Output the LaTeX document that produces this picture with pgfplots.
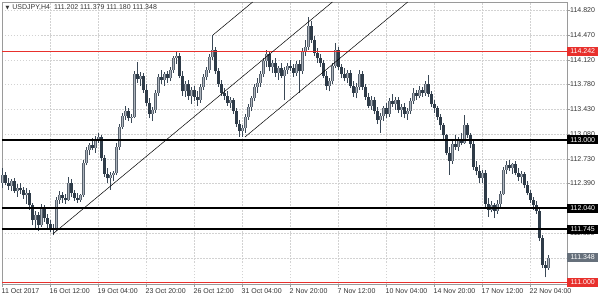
\documentclass[border=0pt]{standalone}
\usepackage{fontspec}
\setmainfont{Liberation Sans}
\newfontfamily\symfont{DejaVu Sans}
\usepackage{pgfplots}
\usepackage{pgfplotstable}
\pgfplotsset{compat=1.18}
\definecolor{bear}{HTML}{2E3B48}
\definecolor{bullout}{HTML}{56606C}
\definecolor{bullin}{HTML}{AEB5BD}
\definecolor{wick}{HTML}{3A4856}
\definecolor{gridc}{HTML}{D2D2D2}
\definecolor{axisc}{HTML}{9A9A9A}
\definecolor{txt}{HTML}{333333}
\definecolor{lvlred}{HTML}{E8302C}
\definecolor{pricegrey}{HTML}{66707B}

\pgfplotstableread{
i O H L C
0 112.40 112.60 112.33 112.50
1 112.50 112.55 112.36 112.40
2 112.40 112.47 112.30 112.35
3 112.35 112.45 112.28 112.42
4 112.42 112.46 112.25 112.28
5 112.28 112.38 112.20 112.33
6 112.33 112.40 112.24 112.30
7 112.30 112.34 112.17 112.22
8 112.22 112.32 112.10 112.26
9 112.26 112.30 112.02 112.08
10 112.08 112.12 111.80 111.88
11 111.88 112.00 111.76 111.95
12 111.95 111.98 111.72 111.80
13 111.80 112.10 111.78 112.05
14 112.05 112.08 111.85 111.90
15 111.90 111.96 111.75 111.82
16 111.82 111.88 111.70 111.76
17 111.76 111.82 111.66 111.74
18 111.74 112.20 111.72 112.16
19 112.16 112.28 112.10 112.22
20 112.22 112.27 112.12 112.18
21 112.18 112.24 112.10 112.15
22 112.15 112.48 112.14 112.40
23 112.40 112.45 112.20 112.25
24 112.25 112.30 112.14 112.18
25 112.18 112.26 112.12 112.16
26 112.16 112.24 112.13 112.22
27 112.22 112.72 112.20 112.68
28 112.68 112.90 112.64 112.85
29 112.85 112.95 112.78 112.92
30 112.92 113.02 112.85 112.88
31 112.88 113.05 112.82 113.00
32 113.00 113.10 112.95 113.04
33 113.04 113.06 112.70 112.74
34 112.74 112.78 112.48 112.52
35 112.52 112.60 112.40 112.46
36 112.46 112.55 112.30 112.50
37 112.50 112.56 112.42 112.53
38 112.53 112.95 112.50 112.90
39 112.90 113.22 112.86 113.18
40 113.18 113.38 113.15 113.34
41 113.34 113.48 113.28 113.40
42 113.40 113.45 113.26 113.30
43 113.30 113.36 113.24 113.32
44 113.32 113.96 113.30 113.92
45 113.92 114.09 113.80 113.85
46 113.85 113.95 113.76 113.90
47 113.90 113.94 113.66 113.70
48 113.70 113.78 113.48 113.52
49 113.52 113.58 113.30 113.36
50 113.36 113.46 113.26 113.42
51 113.42 113.70 113.38 113.66
52 113.66 113.92 113.62 113.88
53 113.88 113.98 113.78 113.84
54 113.84 113.95 113.76 113.92
55 113.92 113.97 113.80 113.86
56 113.86 114.02 113.82 113.98
57 113.98 114.18 113.94 114.14
58 114.14 114.24 114.06 114.18
59 114.18 114.22 113.86 113.90
60 113.90 113.96 113.62 113.68
61 113.68 113.82 113.60 113.78
62 113.78 113.84 113.56 113.62
63 113.62 113.74 113.50 113.70
64 113.70 113.76 113.55 113.60
65 113.60 113.68 113.48 113.56
66 113.56 113.78 113.52 113.74
67 113.74 113.92 113.70 113.88
68 113.88 114.02 113.84 113.98
69 113.98 114.20 113.94 114.16
70 114.16 114.47 114.12 114.26
71 114.26 114.30 113.92 113.96
72 113.96 114.00 113.74 113.78
73 113.78 113.84 113.62 113.66
74 113.66 113.72 113.56 113.62
75 113.62 113.68 113.48 113.52
76 113.52 113.60 113.44 113.56
77 113.56 113.58 113.36 113.40
78 113.40 113.44 113.18 113.22
79 113.22 113.28 113.04 113.12
80 113.12 113.20 113.04 113.16
81 113.16 113.36 113.10 113.32
82 113.32 113.50 113.28 113.46
83 113.46 113.62 113.40 113.58
84 113.58 113.78 113.54 113.74
85 113.74 113.86 113.66 113.80
86 113.80 113.96 113.74 113.92
87 113.92 114.14 113.88 114.10
88 114.10 114.26 114.02 114.20
89 114.20 114.24 113.96 114.02
90 114.02 114.12 113.94 114.08
91 114.08 114.14 113.88 113.94
92 113.94 114.04 113.84 114.00
93 114.00 114.08 113.86 113.90
94 113.90 114.02 113.56 113.98
95 113.98 114.08 113.92 114.04
96 114.04 114.12 113.96 114.00
97 114.00 114.06 113.88 113.94
98 113.94 114.10 113.90 114.06
99 114.06 114.12 113.66 113.96
100 113.96 114.28 113.92 114.24
101 114.24 114.40 114.18 114.30
102 114.30 114.72 114.26 114.60
103 114.60 114.66 114.36 114.40
104 114.40 114.46 114.18 114.22
105 114.22 114.28 114.08 114.14
106 114.14 114.20 114.02 114.08
107 114.08 114.12 113.86 113.90
108 113.90 113.96 113.70 113.76
109 113.76 113.86 113.68 113.82
110 113.82 114.08 113.78 114.04
111 114.04 114.36 114.00 114.26
112 114.26 114.30 113.98 114.02
113 114.02 114.06 113.86 113.92
114 113.92 114.00 113.82 113.86
115 113.86 113.98 113.80 113.94
116 113.94 113.98 113.72 113.76
117 113.76 113.82 113.60 113.66
118 113.66 113.80 113.58 113.74
119 113.74 113.98 113.70 113.92
120 113.92 113.96 113.70 113.74
121 113.74 113.78 113.56 113.60
122 113.60 113.66 113.44 113.48
123 113.48 113.62 113.42 113.56
124 113.56 113.60 113.36 113.40
125 113.40 113.46 113.22 113.28
126 113.28 113.38 113.10 113.34
127 113.34 113.48 113.26 113.44
128 113.44 113.52 113.30 113.36
129 113.36 113.58 113.32 113.54
130 113.54 113.64 113.46 113.50
131 113.50 113.60 113.42 113.56
132 113.56 113.60 113.38 113.42
133 113.42 113.50 113.32 113.46
134 113.46 113.52 113.30 113.36
135 113.36 113.44 113.28 113.40
136 113.40 113.58 113.36 113.54
137 113.54 113.72 113.50 113.66
138 113.66 113.70 113.56 113.62
139 113.62 113.76 113.58 113.70
140 113.70 113.74 113.60 113.66
141 113.66 113.82 113.62 113.78
142 113.78 113.91 113.60 113.64
143 113.64 113.68 113.46 113.50
144 113.50 113.56 113.38 113.44
145 113.44 113.48 113.28 113.32
146 113.32 113.36 113.14 113.20
147 113.20 113.24 113.00 113.06
148 113.06 113.08 112.78 112.82
149 112.82 112.90 112.51 112.70
150 112.70 112.98 112.66 112.94
151 112.94 113.06 112.86 112.90
152 112.90 113.04 112.84 113.00
153 113.00 113.10 112.92 112.96
154 112.96 113.35 112.94 113.20
155 113.20 113.24 113.02 113.06
156 113.06 113.10 112.88 112.94
157 112.94 113.00 112.58 112.62
158 112.62 112.70 112.50 112.56
159 112.56 112.64 112.40 112.46
160 112.46 112.58 112.40 112.54
161 112.54 112.58 112.04 112.10
162 112.10 112.18 111.92 112.02
163 112.02 112.14 111.98 112.08
164 112.08 112.12 111.90 112.00
165 112.00 112.16 111.96 112.10
166 112.10 112.28 112.06 112.24
167 112.24 112.62 112.22 112.58
168 112.58 112.70 112.52 112.64
169 112.64 112.72 112.56 112.60
170 112.60 112.68 112.52 112.66
171 112.66 112.70 112.50 112.54
172 112.54 112.60 112.42 112.48
173 112.48 112.56 112.40 112.52
174 112.52 112.55 112.32 112.36
175 112.36 112.42 112.22 112.26
176 112.26 112.30 112.12 112.16
177 112.16 112.20 112.02 112.08
178 112.08 112.14 111.96 112.00
179 112.00 112.04 111.58 111.62
180 111.62 111.66 111.20 111.24
181 111.24 111.30 111.07 111.20
182 111.202 111.379 111.180 111.348
}\ohlc

\newcommand{\plabel}[3]{\node[anchor=west, fill=#2, text=white, inner sep=0pt,
  minimum width=31pt, minimum height=9pt] at (axis cs:188.17,#1) {#3};}

\begin{document}
\begin{tikzpicture}[font=\fontsize{7}{8}\selectfont]
\useasboundingbox (0,0) rectangle (600pt,300pt);
\begin{axis}[
  at={(2pt,16pt)}, anchor=south west, scale only axis,
  width=565pt, height=282pt,
  xmin=-0.17, xmax=188.17, ymin=110.977, ymax=114.932,
  clip=false,
  axis line style={draw=axisc, line width=0.8pt},
  xtick={0,16,32,48,64,80,96,112,128,144,160,176},
  xticklabels={11 Oct 2017,16 Oct 12:00,19 Oct 04:00,23 Oct 20:00,26 Oct 12:00,31 Oct 04:00,2 Nov 20:00,7 Nov 12:00,10 Nov 04:00,14 Nov 20:00,17 Nov 12:00,22 Nov 04:00},
  ytick={114.82,114.47,114.12,113.78,113.43,113.08,112.73,112.39,112.04,111.69,111.34},
  yticklabels={114.820,114.470,114.120,113.780,113.430,113.080,112.730,112.390,112.040,111.690,111.340},
  xtick pos=left, ytick pos=right, yticklabel pos=right,
  tick align=outside, major tick length=3pt,
  tick style={draw=axisc, line width=0.6pt},
  grid=major,
  major grid style={draw=gridc, dash pattern=on 1.5pt off 1.5pt, line width=0.5pt},
  xticklabel style={anchor=north west, inner sep=0pt, xshift=-1pt, yshift=-1pt, text=txt, font=\fontsize{7}{8}\selectfont},
  yticklabel style={anchor=west, inner sep=0pt, xshift=0pt, text=txt, font=\fontsize{7}{8}\selectfont},
  candle/.style={draw=none, mark=none, forget plot,
    error bars/y dir=plus, error bars/y explicit, error bars/error mark=none},
]
% wicks
\addplot[candle, error bars/error bar style={draw=wick, solid, line width=0.8pt}]
  table[x=i, y=L, y error plus expr=\thisrow{H}-\thisrow{L}] {\ohlc};
% bull bodies
\addplot[candle, restrict expr to domain={\thisrow{C}-\thisrow{O}}{0:10},
  error bars/error bar style={draw=bullout, solid, line width=2.4pt}]
  table[x=i, y=O, y error plus expr=\thisrow{C}-\thisrow{O}] {\ohlc};
\addplot[candle, restrict expr to domain={\thisrow{C}-\thisrow{O}}{0:10},
  error bars/error bar style={draw=bullin, solid, line width=1.3pt}]
  table[x=i, y=O, y error plus expr=\thisrow{C}-\thisrow{O}] {\ohlc};
% bear bodies
\addplot[candle, restrict expr to domain={\thisrow{O}-\thisrow{C}}{0.00001:10},
  error bars/error bar style={draw=bear, solid, line width=2.4pt}]
  table[x=i, y=C, y error plus expr=\thisrow{O}-\thisrow{C}] {\ohlc};

% horizontal levels
\draw[lvlred, line width=0.7pt] (axis cs:-0.17,114.242) -- (axis cs:188.17,114.242);
\draw[black, line width=1.8pt] (axis cs:-0.17,113.000) -- (axis cs:188.17,113.000);
\draw[black, line width=1.8pt] (axis cs:-0.17,112.040) -- (axis cs:188.17,112.040);
\draw[black, line width=1.8pt] (axis cs:-0.17,111.745) -- (axis cs:188.17,111.745);
\draw[lvlred, line width=0.7pt] (axis cs:-0.17,111.000) -- (axis cs:188.17,111.000);

% channel lines
\draw[black, line width=0.5pt] (axis cs:16.8,111.68) -- (axis cs:109.98,114.932);
\draw[black, line width=0.5pt] (axis cs:70.17,114.47) -- (axis cs:83.4,114.932);
\draw[black, line width=0.5pt] (axis cs:80.83,113.039) -- (axis cs:135.07,114.932);

% price labels
\plabel{114.242}{lvlred}{114.242}
\plabel{113.000}{black}{113.000}
\plabel{112.040}{black}{112.040}
\plabel{111.745}{black}{111.745}
\plabel{111.348}{pricegrey}{111.348}
\plabel{111.000}{lvlred}{111.000}

% title
\node[anchor=west, inner sep=0pt, text=txt] at (rel axis cs:0.006,0.9787)
  {{\symfont\fontsize{5}{6}\selectfont ▼}\hspace{3pt}USDJPY,H4\hspace{4pt}111.202 111.379 111.180 111.348};
\end{axis}
\end{tikzpicture}
\end{document}
